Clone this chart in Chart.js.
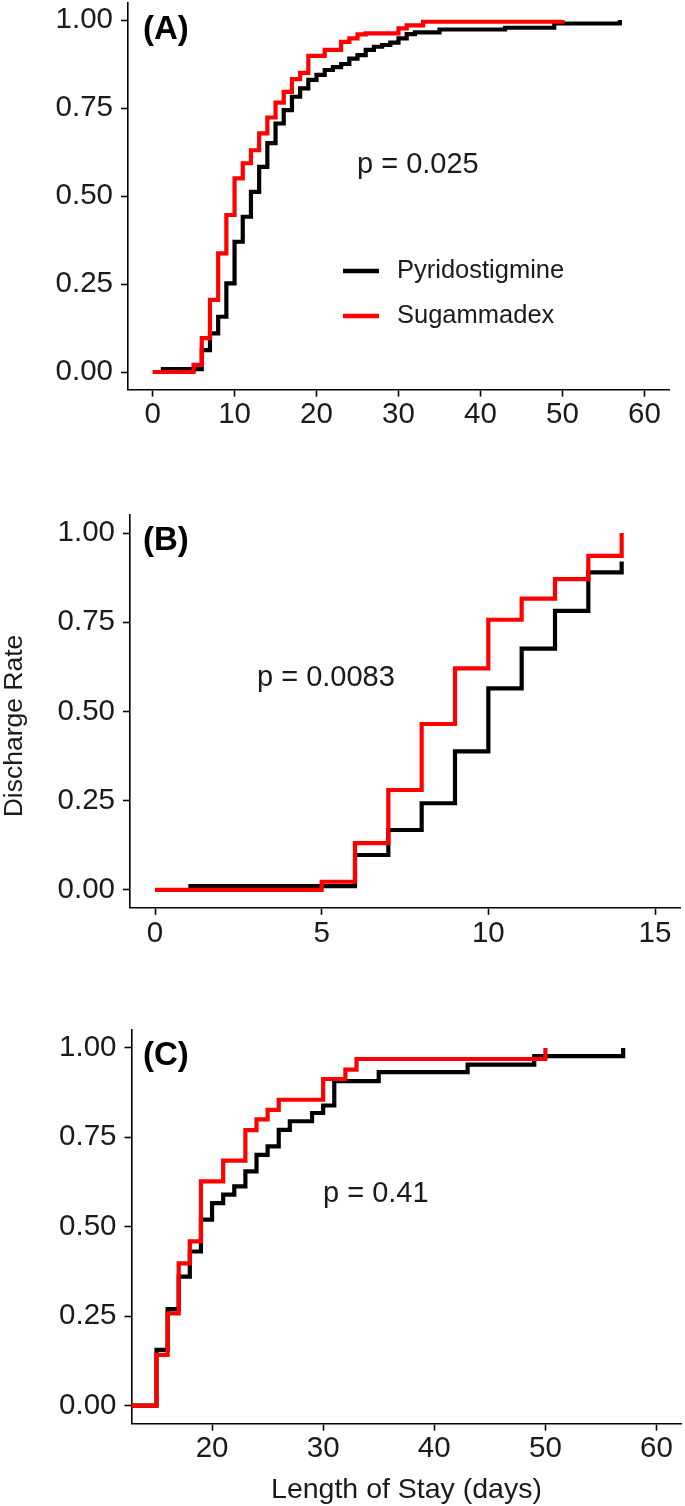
<!DOCTYPE html>
<html><head><meta charset="utf-8">
<script src="https://cdn.jsdelivr.net/npm/chart.js@4.4.0/dist/chart.umd.min.js"></script>
<style>
html,body{margin:0;padding:0;background:#fff;}
body{width:685px;height:1506px;position:relative;overflow:hidden;}
canvas{position:absolute;left:0;}
</style></head><body>
<canvas id="cA"></canvas><canvas id="cB"></canvas><canvas id="cC"></canvas>
<script>
// ---------- data ----------
const seriesNames = ['Pyridostigmine', 'Sugammadex'];
const seriesColors = ['#000000', '#ff0000'];
const yTicks = [0, 0.25, 0.5, 0.75, 1];
const yTickLabels = ['0.00', '0.25', '0.50', '0.75', '1.00'];
const xTicksA = [0, 10, 20, 30, 40, 50, 60];
const xTicksB = [0, 5, 10, 15];
const xTicksC = [20, 30, 40, 50, 60];
const panelLabels = ['(A)', '(B)', '(C)'];
const pLabels = ['p = 0.025', 'p = 0.0083', 'p = 0.41'];
const yTitle = 'Discharge Rate';
const xTitle = 'Length of Stay (days)';

// Panel A
const aPyrDays = [1, 6, 7, 8, 9, 10, 11, 12, 13, 14, 15, 16, 17, 18, 19, 20, 21, 22, 23, 24, 25, 26, 27, 28, 29, 30, 31, 32, 35, 43, 49, 57];
const aPyrRate = [0.008, 0.062, 0.11, 0.157, 0.252, 0.37, 0.441, 0.512, 0.583, 0.65, 0.706, 0.744, 0.782, 0.806, 0.83, 0.844, 0.858, 0.866, 0.875, 0.89, 0.9, 0.915, 0.924, 0.929, 0.936, 0.948, 0.96, 0.965, 0.973, 0.978, 0.99, 1.0];
const aSugDays = [0, 5, 6, 7, 8, 9, 10, 11, 12, 13, 14, 15, 16, 17, 18, 19, 21, 23, 24, 25, 26, 30, 31, 33, 50];
const aSugRate = [0, 0.02, 0.096, 0.205, 0.337, 0.446, 0.55, 0.593, 0.63, 0.678, 0.723, 0.765, 0.796, 0.832, 0.85, 0.898, 0.915, 0.938, 0.948, 0.959, 0.962, 0.976, 0.985, 0.995, 1.0];

// Panel B
const bPyrDays = [1, 6, 7, 8, 9, 10, 11, 12, 13, 14];
const bPyrRate = [0.011, 0.098, 0.168, 0.243, 0.388, 0.565, 0.676, 0.782, 0.89, 0.92];
const bSugDays = [0, 5, 6, 7, 8, 9, 10, 11, 12, 13, 14];
const bSugRate = [0, 0.023, 0.131, 0.28, 0.465, 0.621, 0.757, 0.816, 0.871, 0.936, 1.0];

// Panel C
const cPyrDays = [0, 15, 16, 17, 18, 19, 20, 21, 22, 23, 24, 25, 26, 27, 29, 30, 31, 35, 43, 49, 57];
const cPyrRate = [0, 0.156, 0.27, 0.361, 0.431, 0.52, 0.566, 0.59, 0.613, 0.655, 0.701, 0.725, 0.771, 0.795, 0.818, 0.839, 0.907, 0.932, 0.953, 0.977, 1.0];
const cSugDays = [0, 15, 16, 17, 18, 19, 21, 23, 24, 25, 26, 30, 32, 33, 50];
const cSugRate = [0, 0.142, 0.258, 0.398, 0.459, 0.627, 0.685, 0.77, 0.8, 0.827, 0.855, 0.913, 0.939, 0.969, 1.0];

// ---------- helpers ----------
const FONT = "'Liberation Sans', Arial, Helvetica, sans-serif";
const TEXT = '#1a1a1a';
const W = 685;
const TICK_SIZE = 29.5;

function pts(xs, ys) { return xs.map((x, i) => ({ x: x, y: ys[i] })); }

const annotPlugin = {
  id: 'annot',
  afterDatasetsDraw(chart, args, opts) {
    const ctx = chart.ctx;
    const top = opts.canvasTop || 0;
    ctx.save();
    (opts.texts || []).forEach(t => {
      ctx.save();
      ctx.font = t.font;
      ctx.fillStyle = t.color || TEXT;
      ctx.textAlign = t.align || 'left';
      ctx.textBaseline = 'middle';
      ctx.translate(t.x, t.y - top);
      if (t.rotate) ctx.rotate(t.rotate * Math.PI / 180);
      ctx.fillText(t.text, 0, 0);
      ctx.restore();
    });
    if (opts.legend) {
      const L = opts.legend;
      chart.data.datasets.forEach((ds, i) => {
        const y = L.y[i] - top;
        ctx.strokeStyle = ds.borderColor;
        ctx.lineWidth = L.lineWidth;
        ctx.lineCap = 'butt';
        ctx.beginPath(); ctx.moveTo(L.x0, y); ctx.lineTo(L.x1, y); ctx.stroke();
        ctx.font = L.font; ctx.fillStyle = TEXT;
        ctx.textAlign = 'left'; ctx.textBaseline = 'middle';
        ctx.fillText(ds.label, L.tx, y);
      });
    }
    ctx.restore();
  }
};

function makePanel(p) {
  const cv = document.getElementById(p.id);
  const H = p.canvasH;
  cv.width = W; cv.height = H;
  cv.style.width = W + 'px'; cv.style.height = H + 'px';
  cv.style.top = p.canvasTop + 'px';
  const xH = H - (p.areaBottom - p.canvasTop);
  const datasets = [
    { label: seriesNames[0], data: pts(p.pyrX, p.pyrY), borderColor: seriesColors[0], order: 2 },
    { label: seriesNames[1], data: pts(p.sugX, p.sugY), borderColor: seriesColors[1], order: 1 }
  ].map(d => Object.assign(d, { stepped: 'before', borderWidth: 4.2, pointRadius: 0, fill: false, tension: 0, borderJoinStyle: 'miter' }));
  new Chart(cv, {
    type: 'line',
    data: { datasets },
    plugins: [annotPlugin],
    options: {
      responsive: false, animation: false, devicePixelRatio: 1,
      layout: { padding: { left: 0, right: W - p.areaRight, top: p.areaTop - p.canvasTop, bottom: 0 } },
      plugins: {
        legend: { display: false }, tooltip: { enabled: false },
        annot: { canvasTop: p.canvasTop, texts: p.texts, legend: p.legend }
      },
      scales: {
        x: {
          type: 'linear', min: p.xmin, max: p.xmax,
          afterBuildTicks: s => { s.ticks = p.xticks.map(v => ({ value: v })); },
          afterFit: s => { s.height = xH; s.paddingLeft = 0; s.paddingRight = 0; },
          ticks: { font: { family: FONT, size: TICK_SIZE }, color: TEXT, padding: 1, maxRotation: 0, autoSkip: false,
                   callback: v => String(v) },
          grid: { drawOnChartArea: false, drawTicks: true, tickLength: 7, tickColor: '#000', tickWidth: 1.6 },
          border: { display: true, color: '#000', width: 1.6 },
          title: p.xTitle ? { display: true, text: p.xTitle, font: { family: FONT, size: 28.5, lineHeight: 1.1 }, color: TEXT, padding: { top: 0, bottom: 0 } } : { display: false }
        },
        y: {
          type: 'linear', min: -0.05, max: 1.05,
          afterBuildTicks: s => { s.ticks = yTicks.map(v => ({ value: v })); },
          afterFit: s => { s.width = p.areaLeft; s.paddingTop = 0; s.paddingBottom = 0; },
          ticks: { font: { family: FONT, size: TICK_SIZE }, color: TEXT, padding: 8,
                   callback: v => yTickLabels[yTicks.indexOf(v)] },
          grid: { drawOnChartArea: false, drawTicks: true, tickLength: 7, tickColor: '#000', tickWidth: 1.6 },
          border: { display: true, color: '#000', width: 1.6 }
        }
      }
    }
  });
}

const labelFont = 'bold 33px ' + FONT;
const pFont = '29px ' + FONT;

makePanel({
  id: 'cA', canvasTop: 0, canvasH: 440,
  areaLeft: 128, areaRight: 669, areaTop: 2.4, areaBottom: 389.6,
  xmin: -3, xmax: 63, xticks: xTicksA,
  pyrX: aPyrDays, pyrY: aPyrRate, sugX: aSugDays, sugY: aSugRate,
  texts: [
    { text: panelLabels[0], x: 143, y: 30, font: labelFont, color: '#000' },
    { text: pLabels[0], x: 357, y: 165, font: pFont }
  ],
  legend: { x0: 343, x1: 379, tx: 397, y: [271, 316], lineWidth: 4.5, font: '25.5px ' + FONT }
});

makePanel({
  id: 'cB', canvasTop: 460, canvasH: 500,
  areaLeft: 130, areaRight: 680, areaTop: 515.2, areaBottom: 907.8,
  xmin: -0.75, xmax: 15.75, xticks: xTicksB,
  pyrX: bPyrDays, pyrY: bPyrRate, sugX: bSugDays, sugY: bSugRate,
  texts: [
    { text: panelLabels[1], x: 143, y: 541, font: labelFont, color: '#000' },
    { text: pLabels[1], x: 257, y: 678, font: pFont },
    { text: yTitle, x: 15, y: 726, font: '26.5px ' + FONT, align: 'center', rotate: -90 }
  ]
});

makePanel({
  id: 'cC', canvasTop: 960, canvasH: 546,
  areaLeft: 131.5, areaRight: 681.5, areaTop: 1030, areaBottom: 1423.6,
  xmin: 12.75, xmax: 62.25, xticks: xTicksC,
  pyrX: cPyrDays, pyrY: cPyrRate, sugX: cSugDays, sugY: cSugRate,
  xTitle: xTitle,
  texts: [
    { text: panelLabels[2], x: 143, y: 1056, font: labelFont, color: '#000' },
    { text: pLabels[2], x: 323, y: 1194, font: pFont }
  ]
});
</script>
</body></html>
